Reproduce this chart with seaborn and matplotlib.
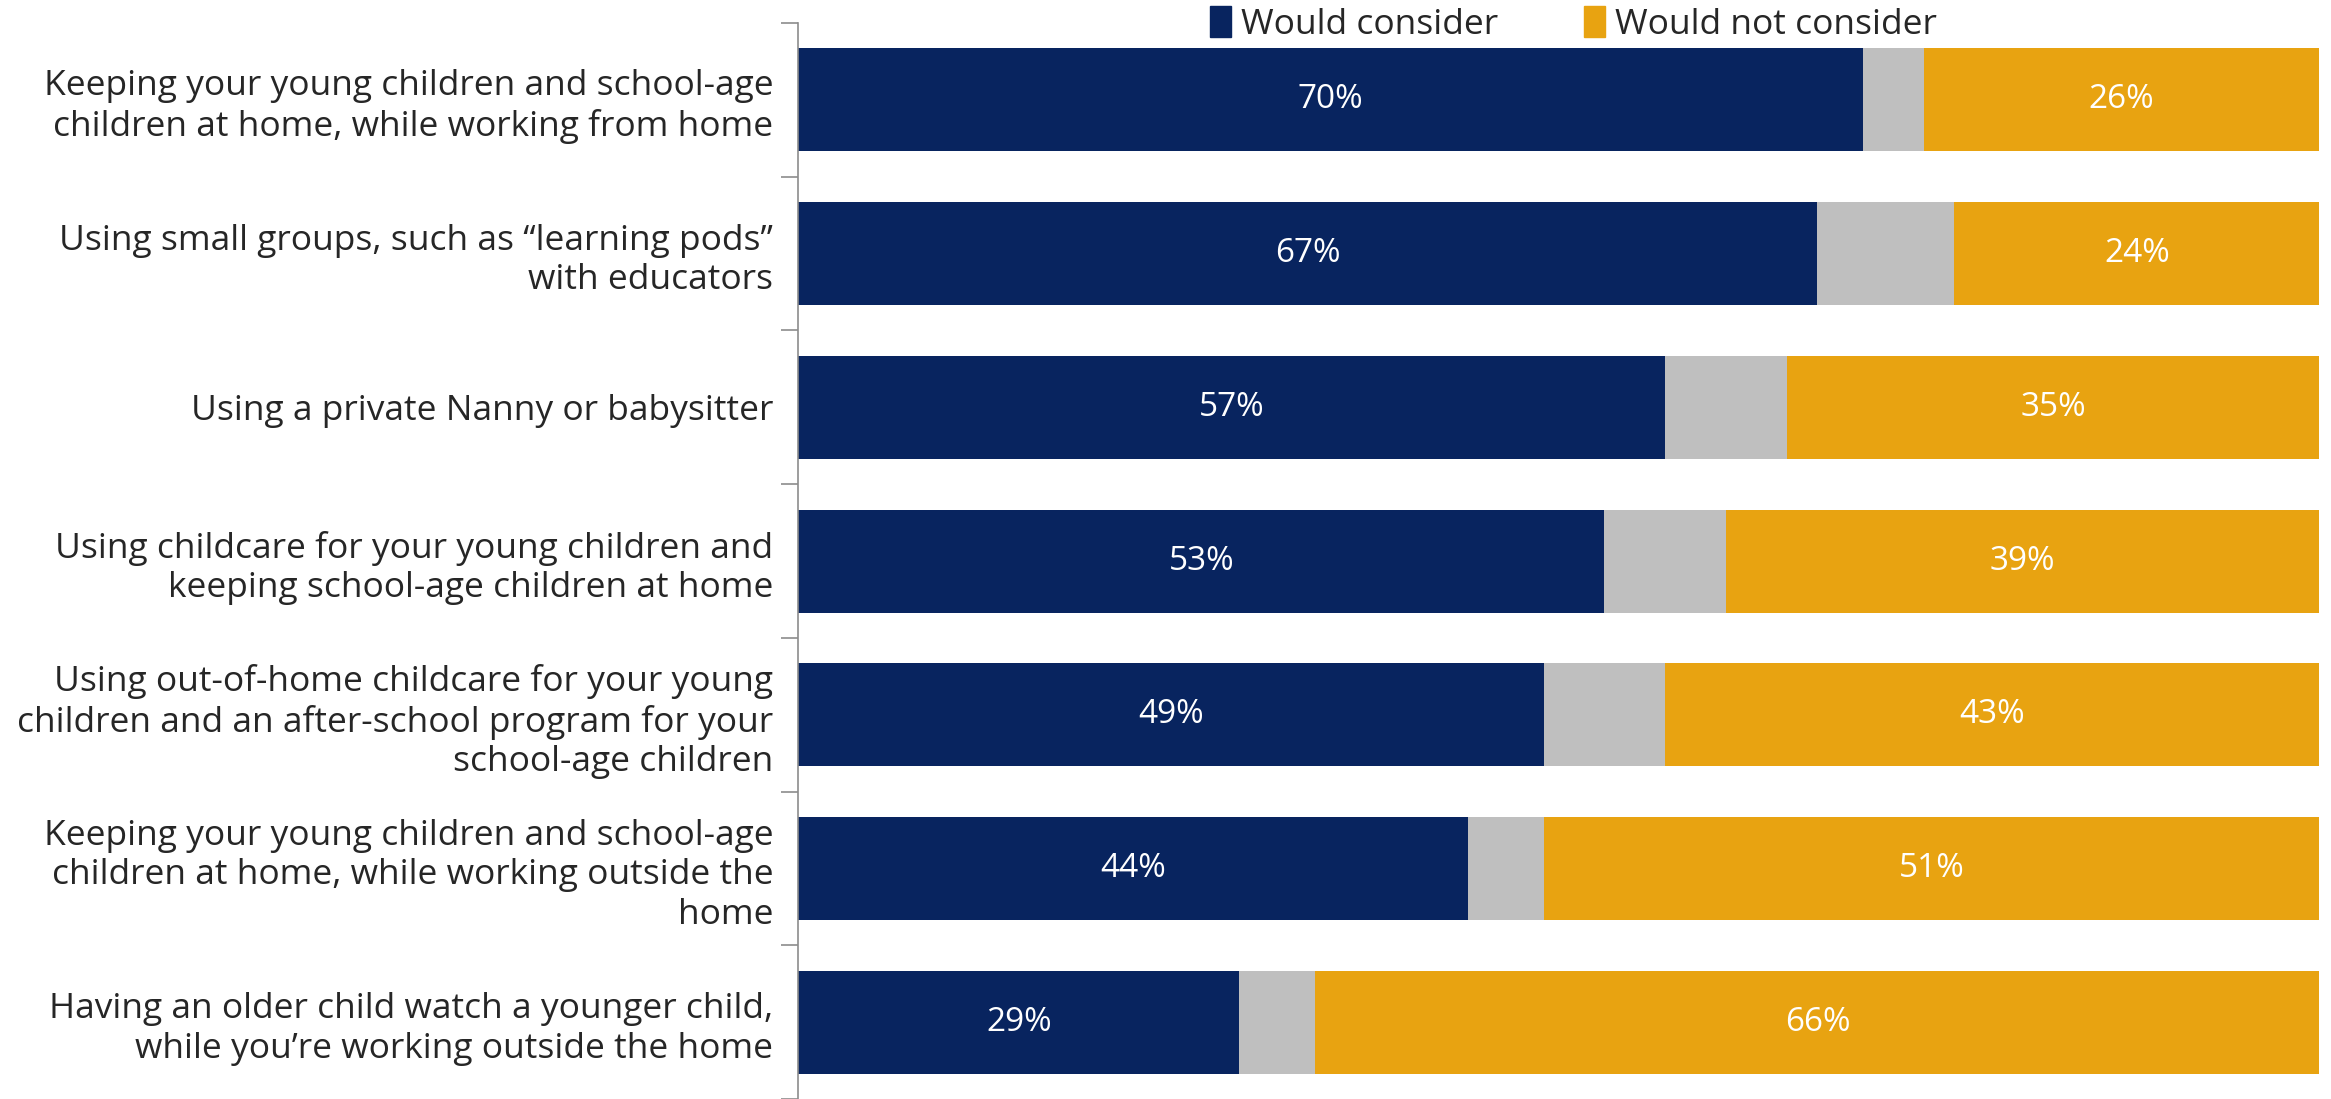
import numpy as np
import pandas as pd
import seaborn as sns
import matplotlib.pyplot as plt
from matplotlib.patches import Patch

# data
options = [
    "Keeping your young children and school-age\nchildren at home, while working from home",
    "Using small groups, such as \u201clearning pods\u201d\nwith educators",
    "Using a private Nanny or babysitter",
    "Using childcare for your young children and\nkeeping school-age children at home",
    "Using out-of-home childcare for your young\nchildren and an after-school program for your\nschool-age children",
    "Keeping your young children and school-age\nchildren at home, while working outside the\nhome",
    "Having an older child watch a younger child,\nwhile you\u2019re working outside the home",
]
would_consider = [70, 67, 57, 53, 49, 44, 29]
would_not_consider = [26, 24, 35, 39, 43, 51, 66]

NAVY = "#08245F"
GREY = "#BFBFBF"
ORANGE = "#E8A311"

sns.set_theme(style="white")
plt.rcParams['font.family'] = ['Open Sans', 'DejaVu Sans']

df = pd.DataFrame({
    "option": options,
    "consider": would_consider,
    "not_consider": would_not_consider,
})
df["unsure_end"] = 100 - df["not_consider"]
df["total"] = 100

fig = plt.figure(figsize=(23.31, 10.99), dpi=100)
ax = fig.add_axes([0.3425, 0.0, 0.6525, 0.979])

# stacked by overlaying cumulative bars, largest first
for col, c in [("total", ORANGE), ("unsure_end", GREY), ("consider", NAVY)]:
    sns.barplot(data=df, y="option", x=col, color=c, width=0.67,
                orient="h", ax=ax, saturation=1, linewidth=0)

# value labels
for i, row in df.iterrows():
    ax.text(row["consider"] / 2, i, f"{row['consider']}%", color="white",
            ha="center", va="center", fontsize=24)
    ax.text((row["unsure_end"] + 100) / 2, i, f"{row['not_consider']}%",
            color="white", ha="center", va="center", fontsize=24)

ax.set_xlim(0, 100)
ax.set_ylim(len(options) - 0.5, -0.5)
ax.set_xlabel("")
ax.set_ylabel("")
ax.set_xticks([])
ax.tick_params(axis="y", which="major", length=0, pad=18, labelsize=25.5)
for lbl in ax.get_yticklabels():
    lbl.set_linespacing(1.22)
ax.set_yticks(np.arange(-0.5, len(options) + 0.5, 1), minor=True)
ax.tick_params(axis="y", which="minor", length=12, width=1.2, color="#8C8C8C",
               direction="out", left=True)
for side in ["top", "right", "bottom"]:
    ax.spines[side].set_visible(False)
ax.spines["left"].set_color("#8C8C8C")
ax.spines["left"].set_linewidth(1.2)

handles = [Patch(color=NAVY, label="Would consider"),
           Patch(color=ORANGE, label="Would not consider")]
fig.legend(handles=handles, loc="center", bbox_to_anchor=(0.675, 0.978),
           ncol=2, frameon=False, fontsize=25.5, handlelength=0.6,
           handleheight=0.95, handletextpad=0.3, columnspacing=2.4)

fig.savefig("out.png", dpi=100)
